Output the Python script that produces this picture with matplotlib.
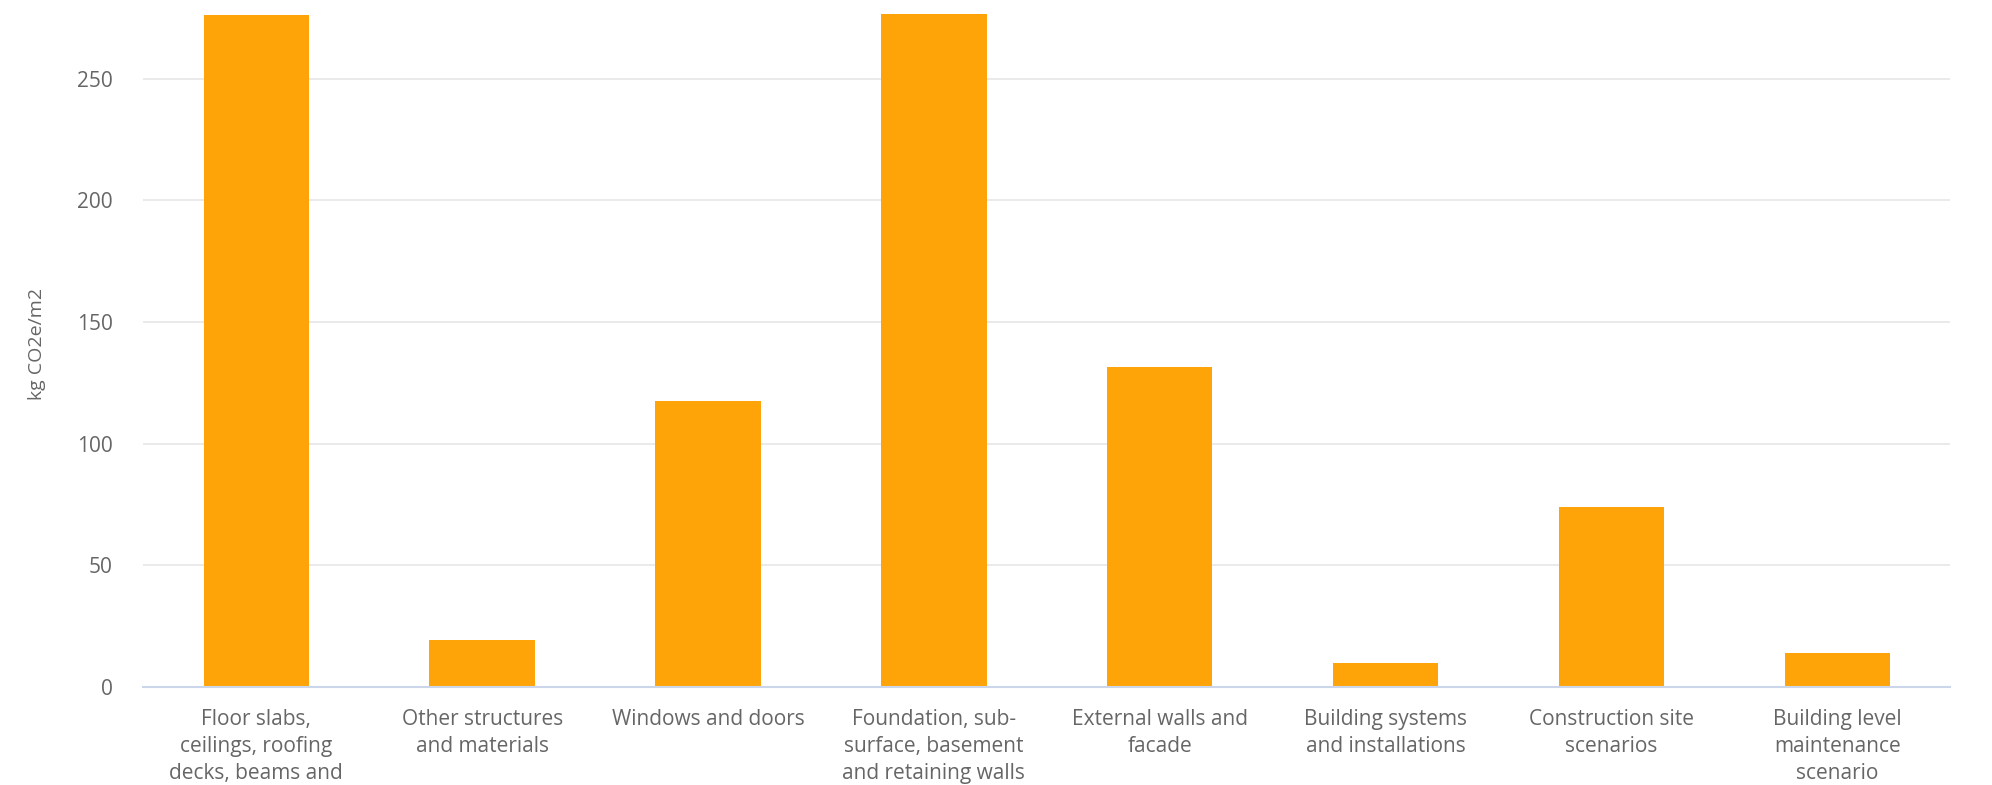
import matplotlib.pyplot as plt

categories = [
    'Floor slabs,\nceilings, roofing\ndecks, beams and',
    'Other structures\nand materials',
    'Windows and doors',
    'Foundation, sub-\nsurface, basement\nand retaining walls',
    'External walls and\nfacade',
    'Building systems\nand installations',
    'Construction site\nscenarios',
    'Building level\nmaintenance\nscenario',
]
values = [276.1, 19.4, 117.6, 276.7, 131.6, 10.0, 73.8, 13.8]
yticks = [0, 50, 100, 150, 200, 250]

plt.rcParams['font.family'] = ['Open Sans', 'DejaVu Sans']

fig = plt.figure(figsize=(19.92, 7.85), dpi=100)
ax = fig.add_axes([0.072, 0.1248, 0.907, 0.8752])

x = range(len(categories))
ax.bar(x, values, width=0.467, color='#ffa408', zorder=3)

ax.set_xlim(-0.5, len(categories) - 0.5)
ax.set_ylim(0, 282.4)
ax.set_yticks(yticks)
ax.set_xticks(list(x))
ax.set_xticklabels(categories, fontsize=15, color='#666666', linespacing=1.38, va='top')
ax.tick_params(axis='x', length=0, pad=16)
ax.tick_params(axis='y', length=0, pad=22, labelsize=15, labelcolor='#666666')

ax.grid(axis='y', color='#e6e6e6', linewidth=1.2, zorder=0)
for side in ['top', 'right', 'left']:
    ax.spines[side].set_visible(False)
ax.spines['bottom'].set_color('#ccd6eb')
ax.spines['bottom'].set_linewidth(1.5)
ax.spines['bottom'].set_zorder(4)

ax.set_ylabel('kg CO2e/m2', fontsize=14, color='#666666', labelpad=22)

fig.savefig('out.png', dpi=100)
